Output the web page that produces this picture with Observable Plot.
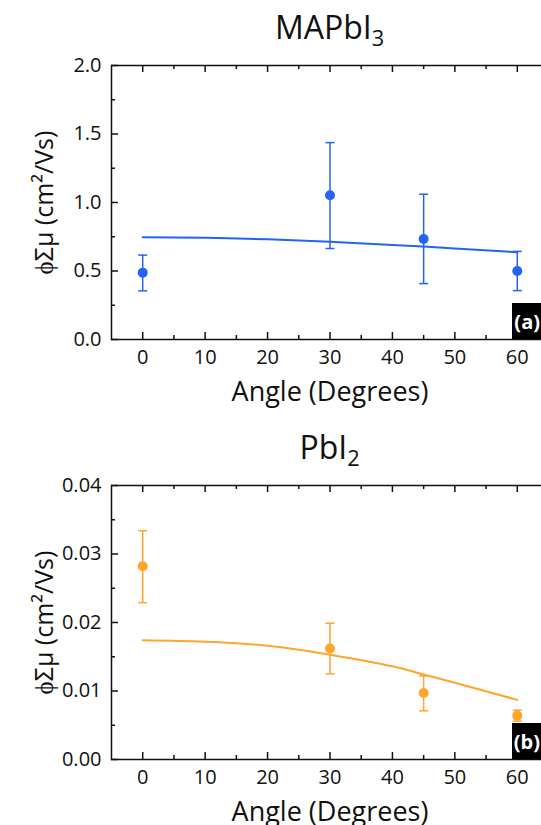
<!DOCTYPE html>
<html><head><meta charset="utf-8">
<script src="https://cdn.jsdelivr.net/npm/d3@7"></script>
<script src="https://cdn.jsdelivr.net/npm/@observablehq/plot@0.6"></script>
<style>
html,body{margin:0;padding:0;background:#fff;overflow:hidden;width:541px;height:825px;}
.panel{position:relative;width:558px;height:420px;}
.panel svg{max-width:none !important;display:block;}
.title{position:absolute;left:111px;width:437px;top:11px;text-align:center;font-family:"Open Sans";font-size:32px;color:#111;line-height:1;}
.title sub{font-size:0.68em;vertical-align:-0.3em;line-height:0;}
</style></head><body>
<div id="root"></div>
<script>
const angles = [0, 30, 45, 60];
const mapbi3Mean = [0.488, 1.053, 0.734, 0.50];
const mapbi3Low = [0.355, 0.664, 0.408, 0.357];
const mapbi3High = [0.616, 1.437, 1.06, 0.643];
const fitAngles = [0, 10, 20, 30, 40, 45, 50, 60];
const mapbi3Fit = [0.746, 0.742, 0.731, 0.713, 0.690, 0.678, 0.665, 0.637];
const pbi2Mean = [0.0282, 0.0162, 0.0097, 0.0064];
const pbi2Low = [0.0229, 0.0125, 0.0071, 0.0056];
const pbi2High = [0.0334, 0.0199, 0.0122, 0.0072];
const pbi2Fit = [0.0174, 0.0172, 0.0166, 0.0153, 0.0136, 0.0124, 0.0112, 0.0087];
const xMajor = [0, 10, 20, 30, 40, 50, 60];
const xMinor = [5, 15, 25, 35, 45, 55];
const yMajorA = [0, 0.5, 1.0, 1.5, 2.0];
const yMinorA = [0.25, 0.75, 1.25, 1.75];
const yMajorB = [0, 0.01, 0.02, 0.03, 0.04];
const yMinorB = [0.005, 0.015, 0.025, 0.035];
const xLabel = "Angle (Degrees)";
const yLabel = "ϕΣμ (cm²/Vs)";

const W = 558, H = 420, ML = 111, MR = 10, MT = 65, MB = 81;
const PW = W - ML - MR, PH = H - MT - MB;
const hline = {draw(ctx, size) { const r = Math.sqrt(size / Math.PI); ctx.moveTo(-r, 0); ctx.lineTo(r, 0); }};

function panelTag(label) {
  return (index, scales, values, dims) => {
    const x2 = dims.width - dims.marginRight, y2 = dims.height - dims.marginBottom;
    const g = d3.create("svg:g");
    g.append("rect").attr("x", x2 - 36).attr("y", y2 - 36).attr("width", 36).attr("height", 36).attr("fill", "#000");
    g.append("text").attr("x", 540).attr("y", y2 - 17).attr("dy", "0.35em").attr("text-anchor", "end")
      .attr("fill", "#fff").attr("font-weight", "bold").attr("font-size", 20).attr("font-family", "Open Sans").text(label);
    return g.node();
  };
}

function panel(title, mean, low, high, fit, yDomain, yMajor, yMinor, fmt, color, tag) {
  const pts = angles.map((a, i) => ({a, m: mean[i], lo: low[i], hi: high[i]}));
  const fitPts = fitAngles.map((a, i) => ({a, v: fit[i]}));
  const axisStroke = {stroke: "#111", strokeWidth: 1.5};
  const plot = Plot.plot({
    width: W, height: H, marginLeft: ML, marginRight: MR, marginTop: MT, marginBottom: MB,
    style: {fontFamily: "Open Sans", background: "transparent", color: "#111"},
    x: {domain: [-5, 65]},
    y: {domain: yDomain},
    marks: [
      Plot.ruleX(pts, {x: "a", y1: "lo", y2: "hi", stroke: color, strokeWidth: 1.5}),
      Plot.dot(pts, {x: "a", y: "lo", r: 4.5, symbol: hline, stroke: color, strokeWidth: 1.5, fill: "none"}),
      Plot.dot(pts, {x: "a", y: "hi", r: 4.5, symbol: hline, stroke: color, strokeWidth: 1.5, fill: "none"}),
      Plot.line(fitPts, {x: "a", y: "v", stroke: color, strokeWidth: 2, curve: "natural"}),
      Plot.dot(pts, {x: "a", y: "m", r: 5, fill: color, stroke: "none"}),
      Plot.tickX(xMajor, {x: d => d, insetTop: PH - 7, ...axisStroke}),
      Plot.tickX(xMajor, {x: d => d, insetBottom: PH - 7, ...axisStroke}),
      Plot.tickX(xMinor, {x: d => d, insetTop: PH - 4, ...axisStroke}),
      Plot.tickX(xMinor, {x: d => d, insetBottom: PH - 4, ...axisStroke}),
      Plot.tickY(yMajor, {y: d => d, insetRight: PW - 7, ...axisStroke}),
      Plot.tickY(yMajor, {y: d => d, insetLeft: PW - 7, ...axisStroke}),
      Plot.tickY(yMinor, {y: d => d, insetRight: PW - 4, ...axisStroke}),
      Plot.tickY(yMinor, {y: d => d, insetLeft: PW - 4, ...axisStroke}),
      Plot.frame({stroke: "#111", strokeWidth: 1.5}),
      Plot.axisX(xMajor, {tickSize: 0, tickPadding: 10, fontSize: 20, label: null, fill: "#111"}),
      Plot.axisY(yMajor, {tickSize: 0, tickPadding: 10, fontSize: 20, label: null, tickFormat: fmt, fill: "#111"}),
      Plot.text([xLabel], {frameAnchor: "bottom", dy: 53, fontSize: 27, lineAnchor: "middle", fill: "#111"}),
      Plot.text([yLabel], {frameAnchor: "left", dx: -67, rotate: -90, fontSize: 25, textAnchor: "middle", lineAnchor: "middle", fill: "#111"}),
      panelTag(tag)
    ]
  });
  const div = document.createElement("div");
  div.className = "panel";
  const t = document.createElement("div");
  t.className = "title";
  t.innerHTML = title;
  div.appendChild(plot);
  div.appendChild(t);
  return div;
}

const root = document.getElementById("root");
root.appendChild(panel("MAPbI<sub>3</sub>", mapbi3Mean, mapbi3Low, mapbi3High, mapbi3Fit, [0, 2], yMajorA, yMinorA, d => d.toFixed(1), "#2463f6", "(a)"));
root.appendChild(panel("PbI<sub>2</sub>", pbi2Mean, pbi2Low, pbi2High, pbi2Fit, [0, 0.04], yMajorB, yMinorB, d => d.toFixed(2), "#ffa52c", "(b)"));
</script>
</body></html>
